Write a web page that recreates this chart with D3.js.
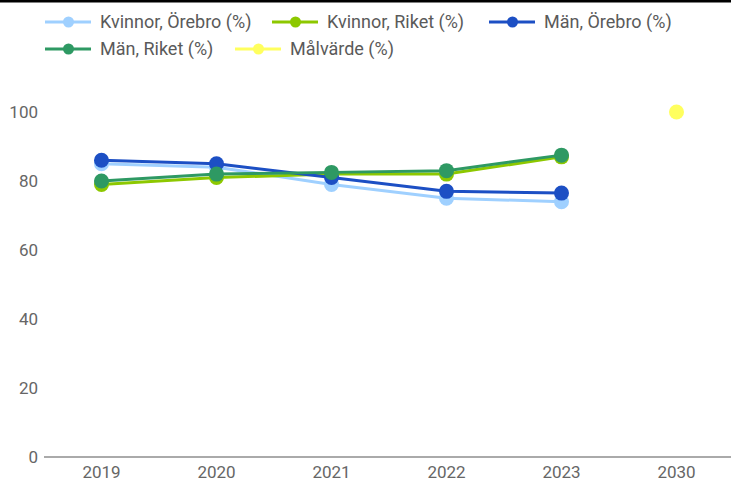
<!DOCTYPE html>
<html><head><meta charset="utf-8">
<script src="https://cdn.jsdelivr.net/npm/d3@7"></script>
<style>body{margin:0;background:#fff;}svg{display:block;font-family:Roboto,sans-serif;}</style>
</head><body><svg id="c" width="731" height="482"></svg>
<script>
const years = ["2019","2020","2021","2022","2023","2030"];
const kvinnorOrebro = [85, 84, 79, 75, 74, null];
const kvinnorRiket = [79, 81, 82, 82, 87, null];
const manOrebro = [86, 85, 81, 77, 76.5, null];
const manRiket = [80, 82, 82.5, 83, 87.5, null];
const malvarde = [null, null, null, null, null, 100];
const yTicks = [0, 20, 40, 60, 80, 100];
const seriesNames = ["Kvinnor, Örebro (%)", "Kvinnor, Riket (%)", "Män, Örebro (%)", "Män, Riket (%)", "Målvärde (%)"];
const seriesColors = ["#9fd0ff", "#8dc800", "#1c4fc4", "#2e9963", "#ffff5e"];
const seriesData = [kvinnorOrebro, kvinnorRiket, manOrebro, manRiket, malvarde];

const svg = d3.select("#c");
svg.append("rect").attr("x",0).attr("y",0).attr("width",731).attr("height",2.5).attr("fill","#000");

const x = d3.scaleBand().domain(years).range([44, 734]);
const y = d3.scaleLinear().domain([0, 100]).range([457, 112]);

// y labels
svg.append("g").selectAll("text").data(yTicks).join("text")
  .attr("x", 38).attr("y", d => y(d)).attr("dy", "0.35em")
  .attr("text-anchor", "end").attr("font-size", 17).attr("fill", "#666").text(d => d);

// x axis
svg.append("line").attr("x1", 44).attr("x2", 731).attr("y1", y(0)).attr("y2", y(0))
  .attr("stroke", "#aaa").attr("stroke-width", 2);
svg.append("g").selectAll("text").data(years).join("text")
  .attr("x", d => x(d) + x.bandwidth()/2).attr("y", 477.5)
  .attr("text-anchor", "middle").attr("font-size", 17).attr("fill", "#666").text(d => d);

const line = d3.line().defined(d => d.v != null)
  .x(d => x(d.year) + x.bandwidth()/2).y(d => y(d.v));

seriesData.forEach((data, i) => {
  const pts = years.map((yr, j) => ({year: yr, v: data[j]}));
  const g = svg.append("g");
  g.append("path").datum(pts).attr("d", line).attr("fill", "none")
    .attr("stroke", seriesColors[i]).attr("stroke-width", 3).attr("stroke-linejoin", "round");
  g.selectAll("circle").data(pts.filter(d => d.v != null)).join("circle")
    .attr("cx", d => x(d.year) + x.bandwidth()/2).attr("cy", d => y(d.v)).attr("r", 7.5)
    .attr("fill", seriesColors[i]);
});

// legend
const legendPos = [[45, 22], [272, 22], [489, 22], [45, 49], [235, 49]];
seriesNames.forEach((name, i) => {
  const [lx, ly] = legendPos[i];
  const g = svg.append("g").attr("transform", `translate(${lx},${ly})`);
  g.append("line").attr("x1", 0).attr("x2", 46).attr("y1", 0).attr("y2", 0)
    .attr("stroke", seriesColors[i]).attr("stroke-width", 3);
  g.append("circle").attr("cx", 23.5).attr("cy", 0).attr("r", 5.5).attr("fill", seriesColors[i]);
  g.append("text").attr("x", 55).attr("y", 0).attr("dy", "0.35em")
    .attr("font-size", 18).attr("fill", "#5a5a5a").text(name);
});
</script></body></html>
